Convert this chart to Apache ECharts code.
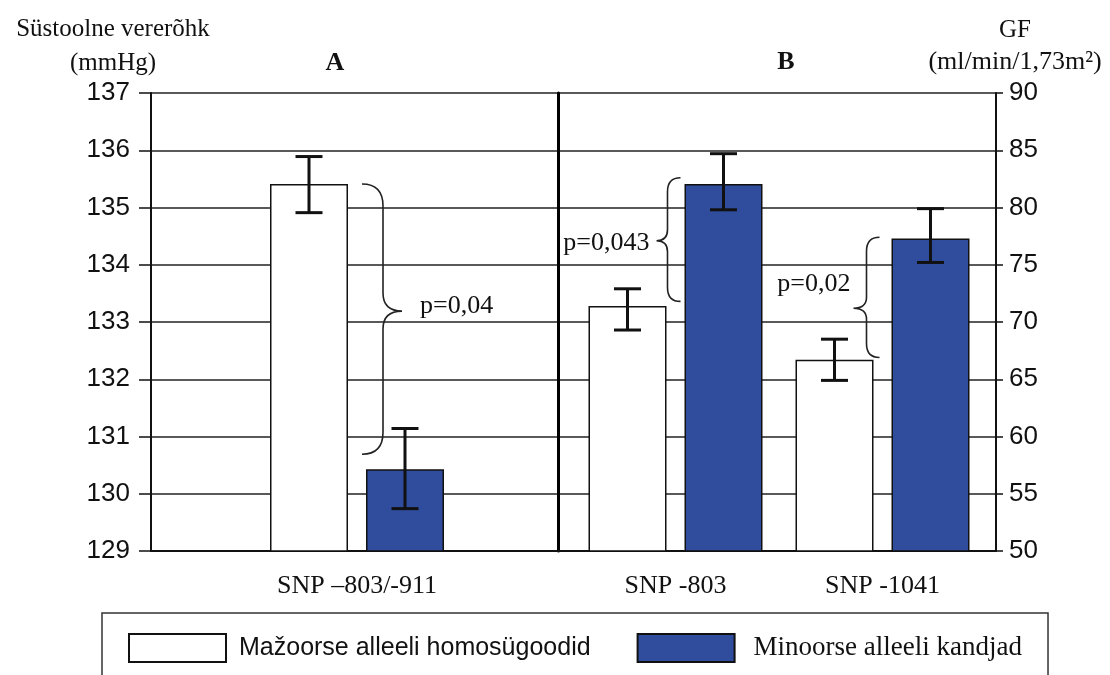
<!DOCTYPE html>
<html>
<head>
<meta charset="utf-8">
<script src="https://cdn.jsdelivr.net/npm/echarts@6.0.0/dist/echarts.min.js"></script>
<style>
  html, body { margin: 0; padding: 0; background: #fff; }
  #chart { width: 1110px; height: 675px; }
</style>
</head>
<body>
<div id="chart"></div>
<script>
  // andmed
  var nameMajor = 'Mažoorse alleeli homosügoodid'
  var nameMinor = 'Minoorse alleeli kandjad'
  // A: süstoolne vererõhk (vasak telg)
  var catA = ['SNP –803/-911']
  var majorA = [135.41]
  var minorA = [130.43]
  var errMajorA = [[135.89, 134.91]]
  var errMinorA = [[131.14, 129.74]]
  // B: GF (parem telg)
  var catB = ['SNP -803', 'SNP -1041']
  var majorB = [71.4, 66.7]
  var minorB = [82.05, 77.3]
  var errMajorB = [[72.9, 69.3], [68.5, 64.9]]
  var errMinorB = [[84.7, 79.8], [79.9, 75.2]]
  // sulud: [ülemine, alumine, tipp] ja p-väärtus
  var braceA = [[135.41, 130.69, 133.19]]
  var pA = ['p=0,04']
  var braceB = [[82.6, 71.8, 77.1], [77.4, 66.9, 71.2]]
  var pB = ['p=0,043', 'p=0,02']
  // telgede skaalad
  var leftMin = 129, leftMax = 137, leftStep = 1
  var rightMin = 50, rightMax = 90, rightStep = 5

  var BLUE = '#304c9c'
  var INK = '#111'
  var SERIF = '"Liberation Serif", "DejaVu Serif", serif'
  var SANS = '"Liberation Sans", Arial, sans-serif'
  var BAR_W = 78
  var BAR_GAP = 18
  var OFF = (BAR_W + BAR_GAP) / 2

  // sulgude kuju (px kategooria keskpunktist): ots, selg, tipp, kaar, teksti nihe
  var braceShapeA = [{ end: 5, spine: 26, tip: 45, r: 22, rt: 18, tx: 18, ty: -5, align: 'left' }]
  var braceShapeB = [
    { end: 5, spine: -8, tip: -19, r: 14, rt: 11, tx: -7, ty: 2, align: 'right' },
    { end: -3, spine: -16, tip: -29, r: 14, rt: 11, tx: -3, ty: -24, align: 'right' }
  ]

  function withCat (rows) {
    return rows.map(function (r, i) { return [i].concat(r) })
  }

  // veajooned
  function errRender (off) {
    return function (params, api) {
      var top = api.coord([api.value(0), api.value(1)])
      var bot = api.coord([api.value(0), api.value(2)])
      var x = top[0] + off
      var cap = 13.5
      var st = { stroke: INK, lineWidth: 3 }
      return {
        type: 'group',
        children: [
          { type: 'line', shape: { x1: x, y1: top[1], x2: x, y2: bot[1] }, style: st },
          { type: 'line', shape: { x1: x - cap, y1: top[1], x2: x + cap, y2: top[1] }, style: st },
          { type: 'line', shape: { x1: x - cap, y1: bot[1], x2: x + cap, y2: bot[1] }, style: st }
        ]
      }
    }
  }

  // looksulud koos p-väärtusega
  function braceRender (shapes, labels) {
    return function (params, api) {
      var s = shapes[params.dataIndex]
      var c = api.coord([api.value(0), api.value(1)])
      var yt = c[1]
      var yb = api.coord([api.value(0), api.value(2)])[1]
      var ym = api.coord([api.value(0), api.value(3)])[1]
      var x0 = c[0] + s.end, xs = c[0] + s.spine, xt = c[0] + s.tip
      var p = 'M' + x0 + ' ' + yt +
        ' Q' + xs + ' ' + yt + ' ' + xs + ' ' + (yt + s.r) +
        ' L' + xs + ' ' + (ym - s.rt) +
        ' Q' + xs + ' ' + ym + ' ' + xt + ' ' + ym +
        ' Q' + xs + ' ' + ym + ' ' + xs + ' ' + (ym + s.rt) +
        ' L' + xs + ' ' + (yb - s.r) +
        ' Q' + xs + ' ' + yb + ' ' + x0 + ' ' + yb
      return {
        type: 'group',
        children: [
          { type: 'path', shape: { pathData: p }, style: { stroke: '#222', lineWidth: 1.6, fill: null } },
          {
            type: 'text', x: xt + s.tx, y: ym + s.ty,
            style: { text: labels[params.dataIndex], fontSize: 26, fontFamily: SERIF, fill: INK, align: s.align, verticalAlign: 'middle' }
          }
        ]
      }
    }
  }

  function barStyle (color) {
    return { color: color, borderColor: INK, borderWidth: 1.5 }
  }

  var myChart = echarts.init(document.getElementById('chart'))
  var option = {
    animation: false,
    backgroundColor: '#fff',
    grid: [
      { left: 151, right: 114, top: 93, bottom: 124 },
      { left: 156, right: 552, top: 93, bottom: 124 },
      { left: 572, right: 124, top: 93, bottom: 124 }
    ],
    xAxis: [
      {
        gridIndex: 0, type: 'value', min: 0, max: 1,
        axisLine: { show: true, lineStyle: { color: INK, width: 2 } },
        axisTick: { show: false }, axisLabel: { show: false }, splitLine: { show: false }
      },
      {
        gridIndex: 1, type: 'category', data: catA,
        axisLine: { show: false }, axisTick: { show: false },
        axisLabel: { margin: 22, color: INK, fontSize: 26, fontFamily: SERIF }
      },
      {
        gridIndex: 2, type: 'category', data: catB,
        axisLine: { show: false }, axisTick: { show: false },
        axisLabel: { margin: 22, color: INK, fontSize: 26, fontFamily: SERIF }
      }
    ],
    yAxis: [
      {
        gridIndex: 0, type: 'value', position: 'left',
        min: leftMin, max: leftMax, interval: leftStep,
        axisLine: { show: true, lineStyle: { color: INK, width: 2 } },
        axisTick: { show: true, length: 12, lineStyle: { color: INK, width: 1.5 } },
        axisLabel: { margin: 21, color: INK, fontSize: 26, fontFamily: SANS },
        splitLine: { show: true, lineStyle: { color: '#222', width: 1.5 } }
      },
      {
        gridIndex: 0, type: 'value', position: 'right',
        min: rightMin, max: rightMax, interval: rightStep,
        axisLine: { show: true, lineStyle: { color: INK, width: 2 } },
        axisTick: { show: true, length: 7, lineStyle: { color: INK, width: 1.5 } },
        axisLabel: { margin: 13, color: INK, fontSize: 26, fontFamily: SANS },
        splitLine: { show: false }
      },
      {
        // A ja B vaheline joon
        gridIndex: 1, type: 'value', position: 'right',
        min: leftMin, max: leftMax, interval: leftStep,
        axisLine: { show: true, lineStyle: { color: '#000', width: 3 } },
        axisTick: { show: false }, axisLabel: { show: false }, splitLine: { show: false }
      },
      {
        gridIndex: 2, type: 'value', show: false,
        min: rightMin, max: rightMax, interval: rightStep
      }
    ],
    legend: {
      left: 102, top: 613,
      padding: [20, 26, 30, 26],
      itemWidth: 97, itemHeight: 28, itemGap: 46,
      borderColor: '#333', borderWidth: 1.5,
      data: [{ name: nameMajor, icon: 'rect' }, { name: nameMinor, icon: 'rect' }],
      formatter: function (name) {
        return name === nameMajor ? '{a|' + name + '}' : '{b|' + name + '}'
      },
      textStyle: {
        color: INK,
        rich: {
          a: { fontSize: 25, fontFamily: SANS, color: INK, padding: [0, 0, 0, 8] },
          b: { fontSize: 27, fontFamily: SERIF, color: INK, padding: [0, 0, 0, 14] }
        }
      }
    },
    graphic: [
      { type: 'text', x: 113, y: 29, style: { text: 'Süstoolne vererõhk', fontSize: 25, fontFamily: SERIF, fill: INK, align: 'center', verticalAlign: 'middle' } },
      { type: 'text', x: 113, y: 63, style: { text: '(mmHg)', fontSize: 25, fontFamily: SERIF, fill: INK, align: 'center', verticalAlign: 'middle' } },
      { type: 'text', x: 335, y: 63, style: { text: 'A', fontSize: 26, fontWeight: 'bold', fontFamily: SERIF, fill: INK, align: 'center', verticalAlign: 'middle' } },
      { type: 'text', x: 786, y: 62, style: { text: 'B', fontSize: 26, fontWeight: 'bold', fontFamily: SERIF, fill: INK, align: 'center', verticalAlign: 'middle' } },
      { type: 'text', x: 1015, y: 30, style: { text: 'GF', fontSize: 25, fontFamily: SERIF, fill: INK, align: 'center', verticalAlign: 'middle' } },
      { type: 'text', x: 1015, y: 62, style: { text: '(ml/min/1,73m²)', fontSize: 26, fontFamily: SERIF, fill: INK, align: 'center', verticalAlign: 'middle' } }
    ],
    series: [
      {
        name: nameMajor, type: 'bar', xAxisIndex: 1, yAxisIndex: 2,
        barWidth: BAR_W, barGap: (BAR_GAP / BAR_W * 100) + '%',
        itemStyle: barStyle('#fff'), data: majorA
      },
      {
        name: nameMinor, type: 'bar', xAxisIndex: 1, yAxisIndex: 2,
        barWidth: BAR_W, itemStyle: barStyle(BLUE), data: minorA
      },
      {
        name: nameMajor, type: 'bar', xAxisIndex: 2, yAxisIndex: 3,
        barWidth: BAR_W, barGap: (BAR_GAP / BAR_W * 100) + '%',
        itemStyle: barStyle('#fff'), data: majorB
      },
      {
        name: nameMinor, type: 'bar', xAxisIndex: 2, yAxisIndex: 3,
        barWidth: BAR_W, itemStyle: barStyle(BLUE), data: minorB
      },
      { type: 'custom', xAxisIndex: 1, yAxisIndex: 2, z: 5, renderItem: errRender(-OFF), data: withCat(errMajorA) },
      { type: 'custom', xAxisIndex: 1, yAxisIndex: 2, z: 5, renderItem: errRender(OFF), data: withCat(errMinorA) },
      { type: 'custom', xAxisIndex: 2, yAxisIndex: 3, z: 5, renderItem: errRender(-OFF), data: withCat(errMajorB) },
      { type: 'custom', xAxisIndex: 2, yAxisIndex: 3, z: 5, renderItem: errRender(OFF), data: withCat(errMinorB) },
      { type: 'custom', xAxisIndex: 1, yAxisIndex: 2, z: 6, renderItem: braceRender(braceShapeA, pA), data: withCat(braceA) },
      { type: 'custom', xAxisIndex: 2, yAxisIndex: 3, z: 6, renderItem: braceRender(braceShapeB, pB), data: withCat(braceB) }
    ]
  }
  myChart.setOption(option)
</script>
</body>
</html>
